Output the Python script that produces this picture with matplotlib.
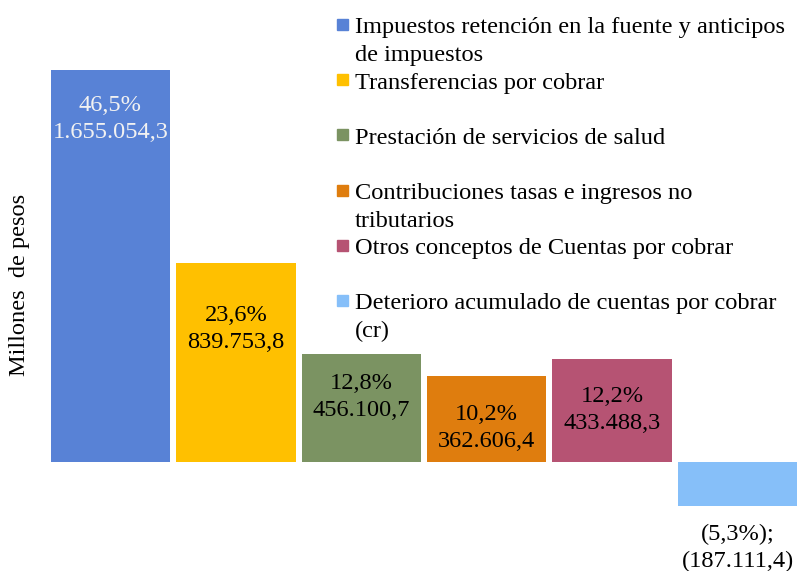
import matplotlib
matplotlib.use("Agg")
import matplotlib.pyplot as plt
from matplotlib.patches import Rectangle

categories = [
    "Impuestos retención en la fuente y anticipos\nde impuestos",
    "Transferencias por cobrar",
    "Prestación de servicios de salud",
    "Contribuciones tasas e ingresos no\ntributarios",
    "Otros conceptos de Cuentas por cobrar",
    "Deterioro acumulado de cuentas por cobrar\n(cr)",
]
values = [1655054.3, 839753.8, 456100.7, 362606.4, 433488.3, -187111.4]
pct_labels = ["46,5%", "23,6%", "12,8%", "10,2%", "12,2%", "(5,3%);"]
val_labels = ["1.655.054,3", "839.753,8", "456.100,7", "362.606,4", "433.488,3", "(187.111,4)"]

colors = ["#5882D6", "#FFC000", "#7B9362", "#DF7D0E", "#B65373", "#86BFF9"]
text_colors = ["#F2F2F2", "black", "black", "black", "black", "black"]
# label-block centre offset in pixels from the bar end (positive = downwards)
label_offsets = [46.5, 64, 41, 49.5, 49, 40]

FONT = "Liberation Serif"
FS = 17.6
LINE = 27.0  # px between label lines
W, H = 797, 571
fig = plt.figure(figsize=(W / 100, H / 100), dpi=100)
px2pt = 0.72

# axes geometry in pixels
ax_left, ax_right = 47.75, 800.25
ax_top, ax_bot = 40, 530
ax = fig.add_axes([ax_left / W, 1 - ax_bot / H, (ax_right - ax_left) / W, (ax_bot - ax_top) / H])
zero_px, top_px = 461.5, 70.0
per_px = values[0] / (zero_px - top_px)
ax.set_ylim(-(ax_bot - zero_px) * per_px, (zero_px - ax_top) * per_px)
ax.set_xlim(-0.5, len(values) - 0.5)

x = list(range(len(values)))
ax.bar(x, values, width=0.952, color=colors)
for i, v in enumerate(values):
    for j, line in enumerate([pct_labels[i], val_labels[i]]):
        dy = label_offsets[i] + (j - 0.5) * LINE
        ax.annotate(line, xy=(i, v), xytext=(0, -dy * px2pt),
                    textcoords="offset points", ha="center", va="center_baseline",
                    fontsize=FS, family=FONT, color=text_colors[i])

ax.axis("off")

fig.text(20 / W, 1 - 285 / H, "Millones  de pesos", rotation=90, ha="center", va="center",
         fontsize=FS, family=FONT)

# legend (manual, Excel-like layout)
for i, (c, lab) in enumerate(zip(colors, categories)):
    yc = 24.5 + 55.2 * i
    fig.patches.append(Rectangle(((342.5 - 5.5) / W, 1 - (yc + 5.5) / H), 11 / W, 11 / H,
                                 transform=fig.transFigure, color=c, figure=fig))
    for j, line in enumerate(lab.split("\n")):
        fig.text(355 / W, 1 - (yc + 1 + j * 27.6) / H, line, ha="left", va="center_baseline",
                 fontsize=FS, family=FONT)

fig.savefig("out.png", dpi=100)
